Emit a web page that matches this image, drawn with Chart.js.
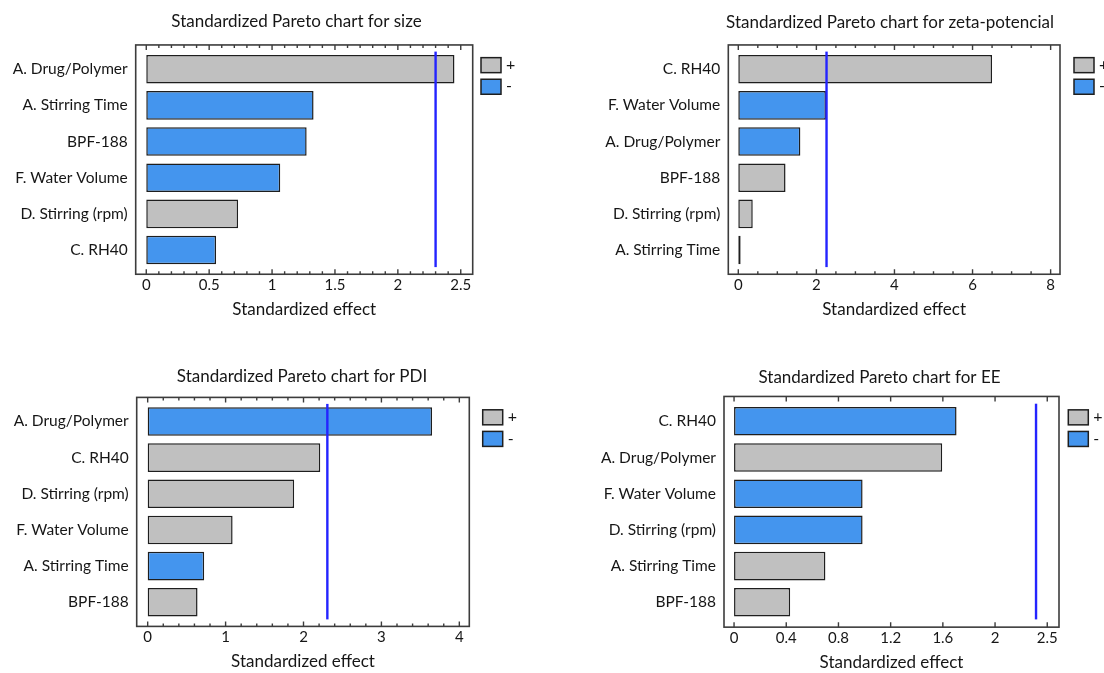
<!DOCTYPE html>
<html>
<head>
<meta charset="utf-8">
<title>Standardized Pareto charts</title>
<script src="https://cdn.jsdelivr.net/npm/chart.js@4.4.0/dist/chart.umd.min.js"></script>
<style>
  html, body { margin: 0; padding: 0; background: #fff; }
  body { position: relative; width: 1104px; height: 673px; overflow: hidden; }
  canvas { position: absolute; }
</style>
</head>
<body>
<canvas id="chartSize"></canvas>
<canvas id="chartZeta"></canvas>
<canvas id="chartPdi"></canvas>
<canvas id="chartEe"></canvas>
<script>
// ---- Standardized effects per response (sign = direction of the effect) ----
const sizeFactors = ['A. Drug/Polymer', 'A. Stirring Time', 'BPF-188', 'F. Water Volume', 'D. Stirring (rpm)', 'C. RH40'];
const sizeEffects = [2.45, 1.33, 1.275, 1.065, 0.73, 0.555];
const sizeSigns   = ['+', '-', '-', '-', '+', '-'];

const zetaFactors = ['C. RH40', 'F. Water Volume', 'A. Drug/Polymer', 'BPF-188', 'D. Stirring (rpm)', 'A. Stirring Time'];
const zetaEffects = [6.50, 2.245, 1.59, 1.21, 0.37, 0.06];
const zetaSigns   = ['+', '-', '-', '+', '+', '+'];

const pdiFactors = ['A. Drug/Polymer', 'C. RH40', 'D. Stirring (rpm)', 'F. Water Volume', 'A. Stirring Time', 'BPF-188'];
const pdiEffects = [3.65, 2.215, 1.88, 1.09, 0.725, 0.64];
const pdiSigns   = ['-', '+', '+', '+', '-', '+'];

const eeFactors = ['C. RH40', 'A. Drug/Polymer', 'F. Water Volume', 'D. Stirring (rpm)', 'A. Stirring Time', 'BPF-188'];
const eeEffects = [1.705, 1.595, 0.985, 0.985, 0.70, 0.43];
const eeSigns   = ['-', '+', '-', '-', '+', '+'];

// Critical t value of each analysis (vertical significance line)
const sizeCritical = 2.30;
const zetaCritical = 2.26;
const pdiCritical  = 2.306;
const eeCritical   = 2.314;

// Effect-axis tick values and the labels printed under them
const sizeTicks = [0, 0.5, 1, 1.5, 2, 2.5];
const sizeTickLabels = ['0', '0.5', '1', '1.5', '2', '2.5'];
const zetaTicks = [0, 2, 4, 6, 8];
const zetaTickLabels = ['0', '2', '4', '6', '8'];
const pdiTicks = [0, 1, 2, 3, 4];
const pdiTickLabels = ['0', '1', '2', '3', '4'];
const eeTicks = [0, 0.4, 0.8, 1.2, 1.6, 2, 2.4];
const eeTickLabels = ['0', '0.4', '0.8', '1.2', '1.6', '2', '2.5'];

const legendSigns = ['+', '-'];
const axisTitle = 'Standardized effect';

// ---- styling ----
const FONT = 'Lato, "Open Sans", sans-serif';
const TEXT = '#161616';
const GRAY = '#c0c0c0';
const BLUE = '#4495ee';
const EDGE = '#1e1e1e';
const FRAME = '#3c3c3c';
const CRIT = '#2424ff';
const signColor = s => (s === '+' ? GRAY : BLUE);

// Frame with inward ticks, critical line and the +/- key
const paretoFrame = {
  id: 'paretoFrame',
  afterDraw(chart, args, o) {
    const { ctx, chartArea: a, scales: { x } } = chart;
    const top = a.top - o.inset, bottom = a.bottom + o.inset;
    ctx.save();

    // critical value line
    const cx = x.getPixelForValue(o.critical);
    ctx.strokeStyle = CRIT;
    ctx.lineWidth = 2.4;
    ctx.beginPath();
    ctx.moveTo(cx, a.top + 0.5);
    ctx.lineTo(cx, a.bottom - 1);
    ctx.stroke();

    // frame
    ctx.strokeStyle = FRAME;
    ctx.lineWidth = 1.6;
    ctx.strokeRect(a.left, top, a.right - a.left, bottom - top);

    // ticks pointing into the frame, top and bottom
    const majors = x.ticks.map(t => t.value);
    const mark = (v, len) => {
      const px = x.getPixelForValue(v);
      ctx.beginPath();
      ctx.moveTo(px, bottom); ctx.lineTo(px, bottom - len);
      ctx.moveTo(px, top);    ctx.lineTo(px, top + len);
      ctx.stroke();
    };
    ctx.lineWidth = 1.4;
    majors.forEach(v => mark(v, 5));
    if (o.minorStep) {
      const k0 = Math.ceil(x.min / o.minorStep), k1 = Math.floor(x.max / o.minorStep);
      for (let k = k0; k <= k1; k++) {
        const v = k * o.minorStep;
        if (majors.some(m => Math.abs(m - v) < 1e-9)) continue;
        mark(v, 3);
      }
    }

    // +/- key
    const lx = a.right + o.legendDx, ly = top + o.legendDy;
    ctx.font = '16px ' + FONT;
    ctx.textBaseline = 'middle';
    ctx.textAlign = 'left';
    legendSigns.forEach((s, i) => {
      const by = ly + i * 21.6;
      ctx.fillStyle = signColor(s);
      ctx.fillRect(lx, by, 20, 15);
      ctx.strokeStyle = EDGE;
      ctx.lineWidth = 1.5;
      ctx.strokeRect(lx, by, 20, 15);
      ctx.fillStyle = TEXT;
      ctx.fillText(s, lx + 25, by + 7);
    });
    ctx.restore();
  }
};

function makePanel(id, g, d) {
  const cv = document.getElementById(id);
  cv.width = g.w; cv.height = g.h;
  cv.style.left = g.x + 'px';
  cv.style.top = g.y + 'px';
  const lh = 17 * 1.2;
  const inset = ((g.frameB - g.frameT) - (g.plotB - g.plotT)) / 2;
  return new Chart(cv, {
    type: 'bar',
    data: {
      labels: d.factors,
      datasets: [{
        data: d.effects,
        backgroundColor: d.signs.map(signColor),
        borderColor: EDGE,
        borderWidth: 1.5,
        borderSkipped: false,
        barPercentage: 0.79,
        categoryPercentage: 1
      }]
    },
    options: {
      indexAxis: 'y',
      responsive: false,
      animation: false,
      devicePixelRatio: 1,
      layout: { padding: 0 },
      plugins: {
        legend: { display: false },
        tooltip: { enabled: false },
        title: {
          display: true,
          text: d.title,
          color: TEXT,
          font: { family: FONT, size: 17, weight: 'normal' },
          padding: { top: g.titleY - g.y - lh / 2, bottom: g.plotT - g.titleY - lh / 2 }
        },
        paretoFrame: {
          critical: d.critical, minorStep: d.minorStep, inset: inset,
          legendDx: g.legendDx, legendDy: g.legendDy
        }
      },
      scales: {
        x: {
          type: 'linear',
          min: g.xmin, max: g.xmax,
          grid: { display: false, drawTicks: false },
          border: { display: false },
          afterBuildTicks: s => { s.ticks = d.ticks.map(v => ({ value: v })); },
          ticks: {
            autoSkip: false, maxRotation: 0, padding: g.tickPad,
            color: TEXT, font: { family: FONT, size: 15 },
            callback: (v, i) => d.tickLabels[i]
          },
          title: {
            display: true, text: axisTitle, color: TEXT,
            font: { family: FONT, size: 17 },
            padding: { top: 0, bottom: g.y + g.h - g.axisTitleY - lh / 2 }
          },
          afterFit: s => { s.height = g.y + g.h - g.plotB; }
        },
        y: {
          grid: { display: false, drawTicks: false },
          border: { display: false },
          ticks: { padding: 8, color: TEXT, font: { family: FONT, size: 15.5 } },
          afterFit: s => { s.width = g.frameL - g.x; }
        },
        // blank right-hand strip that holds the +/- key
        keyStrip: {
          type: 'linear', axis: 'y', position: 'right', display: true,
          grid: { display: false, drawTicks: false },
          border: { display: false },
          ticks: { display: false },
          afterFit: s => { s.width = g.x + g.w - g.frameR; }
        }
      }
    },
    plugins: [paretoFrame]
  });
}

makePanel('chartSize',
  { x: 0, y: 0, w: 593, h: 336, frameL: 135.7, frameR: 472.7, frameT: 45, frameB: 274.3,
    plotT: 51.1, plotB: 268.1, titleY: 22, axisTitleY: 309.3, tickPad: 8,
    xmin: -0.084, xmax: 2.595, legendDx: 8.3, legendDy: 12.7 },
  { title: 'Standardized Pareto chart for size', factors: sizeFactors, effects: sizeEffects,
    signs: sizeSigns, critical: sizeCritical, ticks: sizeTicks, tickLabels: sizeTickLabels, minorStep: 0.1 });

makePanel('chartZeta',
  { x: 560, y: 0, w: 660, h: 336, frameL: 728.3, frameR: 1060, frameT: 45, frameB: 274.3,
    plotT: 51.1, plotB: 268.1, titleY: 23, axisTitleY: 309.3, tickPad: 8,
    xmin: -0.256, xmax: 8.24, legendDx: 14, legendDy: 12.7 },
  { title: 'Standardized Pareto chart for zeta-potencial', factors: zetaFactors, effects: zetaEffects,
    signs: zetaSigns, critical: zetaCritical, ticks: zetaTicks, tickLabels: zetaTickLabels, minorStep: 0.5 });

makePanel('chartPdi',
  { x: 0, y: 336, w: 604, h: 337, frameL: 136.7, frameR: 469.3, frameT: 397.3, frameB: 626.3,
    plotT: 403.4, plotB: 620.4, titleY: 377, axisTitleY: 661.3, tickPad: 8,
    xmin: -0.141, xmax: 4.128, legendDx: 13.4, legendDy: 12.4 },
  { title: 'Standardized Pareto chart for PDI', factors: pdiFactors, effects: pdiEffects,
    signs: pdiSigns, critical: pdiCritical, ticks: pdiTicks, tickLabels: pdiTickLabels, minorStep: 0.2 });

makePanel('chartEe',
  { x: 560, y: 336, w: 639, h: 337, frameL: 724, frameR: 1059, frameT: 396.3, frameB: 627,
    plotT: 403.2, plotB: 620.4, titleY: 378, axisTitleY: 663, tickPad: 9,
    xmin: -0.077, xmax: 2.49, legendDx: 9.3, legendDy: 13.4 },
  { title: 'Standardized Pareto chart for EE', factors: eeFactors, effects: eeEffects,
    signs: eeSigns, critical: eeCritical, ticks: eeTicks, tickLabels: eeTickLabels, minorStep: 0 });
</script>
</body>
</html>
